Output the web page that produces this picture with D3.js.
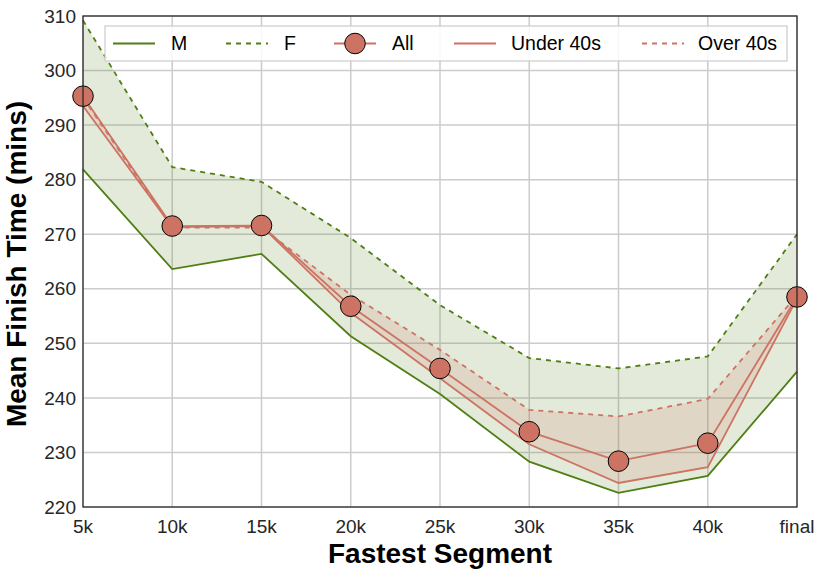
<!DOCTYPE html>
<html><head><meta charset="utf-8">
<script src="https://cdn.jsdelivr.net/npm/d3@7"></script>
<style>body{margin:0;background:#fff}svg{display:block}</style>
</head><body>
<svg id="c" width="822" height="576"></svg>
<script>
const categories = ["5k","10k","15k","20k","25k","30k","35k","40k","final"];
const maleVals   = [281.9, 263.6, 266.4, 251.3, 240.7, 228.3, 222.6, 225.7, 244.8];
const femaleVals = [309.2, 282.3, 279.6, 269.3, 257.0, 247.3, 245.4, 247.6, 270.0];
const allVals    = [295.3, 271.5, 271.6, 256.8, 245.4, 233.8, 228.4, 231.7, 258.5];
const underVals  = [293.5, 271.3, 271.5, 255.6, 243.6, 231.5, 224.4, 227.3, 258.2];
const overVals   = [295.0, 271.2, 271.2, 258.9, 248.8, 237.8, 236.6, 239.8, 258.8];
const yTicks = [220,230,240,250,260,270,280,290,300,310];

const W=822,H=576, m={l:83,r:25,t:16,b:69};
const svg=d3.select("#c");
const x=d3.scalePoint().domain(categories).range([m.l,W-m.r]);
const y=d3.scaleLinear().domain([220,310]).range([H-m.b,m.t]);
const green="#4f7f14", red="#cd7363", font="'Liberation Sans', Arial, sans-serif";

// grid
const g=svg.append("g");
g.selectAll(".gy").data(yTicks).join("line").attr("x1",m.l).attr("x2",W-m.r)
 .attr("y1",d=>y(d)).attr("y2",d=>y(d)).attr("stroke","#cccccc").attr("stroke-width",1.5);
g.selectAll(".gx").data(categories).join("line").attr("y1",m.t).attr("y2",H-m.b)
 .attr("x1",d=>x(d)).attr("x2",d=>x(d)).attr("stroke","#cccccc").attr("stroke-width",1.5);

const idx=categories.map((c,i)=>i);
const area=(lo,hi)=>d3.area().x(i=>x(categories[i])).y0(i=>y(lo[i])).y1(i=>y(hi[i]));
const line=v=>d3.line().x(i=>x(categories[i])).y(i=>y(v[i]));

svg.append("path").attr("d",area(maleVals,femaleVals)(idx)).attr("fill",green).attr("fill-opacity",0.16);
svg.append("path").attr("d",area(underVals,overVals)(idx)).attr("fill",red).attr("fill-opacity",0.16);

svg.append("path").attr("d",line(maleVals)(idx)).attr("fill","none").attr("stroke",green).attr("stroke-width",1.8);
svg.append("path").attr("d",line(femaleVals)(idx)).attr("fill","none").attr("stroke",green).attr("stroke-width",1.8).attr("stroke-dasharray","5,5");
svg.append("path").attr("d",line(underVals)(idx)).attr("fill","none").attr("stroke",red).attr("stroke-width",1.8);
svg.append("path").attr("d",line(overVals)(idx)).attr("fill","none").attr("stroke",red).attr("stroke-width",1.8).attr("stroke-dasharray","5,5");
svg.append("path").attr("d",line(allVals)(idx)).attr("fill","none").attr("stroke",red).attr("stroke-width",1.8);
svg.selectAll(".pt").data(idx).join("circle").attr("cx",i=>x(categories[i])).attr("cy",i=>y(allVals[i]))
 .attr("r",10.3).attr("fill",red).attr("stroke","#000").attr("stroke-width",1);

// frame
svg.append("rect").attr("x",m.l).attr("y",m.t).attr("width",W-m.r-m.l).attr("height",H-m.b-m.t)
 .attr("fill","none").attr("stroke","#262626").attr("stroke-width",1.25);

// ticks labels
svg.selectAll(".yl").data(yTicks).join("text").attr("x",m.l-7).attr("y",d=>y(d)).attr("dy","0.35em")
 .attr("text-anchor","end").attr("font-family",font).attr("font-size",19).attr("fill","#262626").text(d=>d);
svg.selectAll(".xl").data(categories).join("text").attr("x",d=>x(d)).attr("y",H-m.b+19).attr("dy","0.35em")
 .attr("text-anchor","middle").attr("font-family",font).attr("font-size",19).attr("fill","#262626").text(d=>d);

svg.append("text").attr("x",(m.l+W-m.r)/2).attr("y",563).attr("text-anchor","middle")
 .attr("font-family",font).attr("font-weight","bold").attr("font-size",28).attr("fill","#000").text("Fastest Segment");
svg.append("text").attr("transform",`translate(26,264) rotate(-90)`).attr("text-anchor","middle")
 .attr("font-family",font).attr("font-weight","bold").attr("font-size",28).attr("fill","#000").text("Mean Finish Time (mins)");

// legend
const lg=svg.append("g");
lg.append("rect").attr("x",105).attr("y",26).attr("width",682).attr("height",35).attr("fill","#fff").attr("fill-opacity",0.85)
 .attr("stroke","#cccccc").attr("stroke-width",1.2);
const items=[
 {label:"M",color:green,dash:null,marker:false,x0:113,tx:171},
 {label:"F",color:green,dash:"5,5",marker:false,x0:226,tx:284},
 {label:"All",color:red,dash:null,marker:true,x0:334,tx:392},
 {label:"Under 40s",color:red,dash:null,marker:false,x0:454,tx:511},
 {label:"Over 40s",color:red,dash:"5,5",marker:false,x0:642,tx:698}];
const ly=43.5;
items.forEach(it=>{
  const l=lg.append("line").attr("x1",it.x0).attr("x2",it.x0+42).attr("y1",ly).attr("y2",ly).attr("stroke",it.color).attr("stroke-width",1.8);
  if(it.dash) l.attr("stroke-dasharray",it.dash);
  if(it.marker) lg.append("circle").attr("cx",it.x0+21).attr("cy",ly).attr("r",10.3).attr("fill",red).attr("stroke","#000");
  lg.append("text").attr("x",it.tx).attr("y",ly).attr("dy","0.35em").attr("font-family",font).attr("font-size",19.5).attr("fill","#000").text(it.label);
});
</script>
</body></html>
